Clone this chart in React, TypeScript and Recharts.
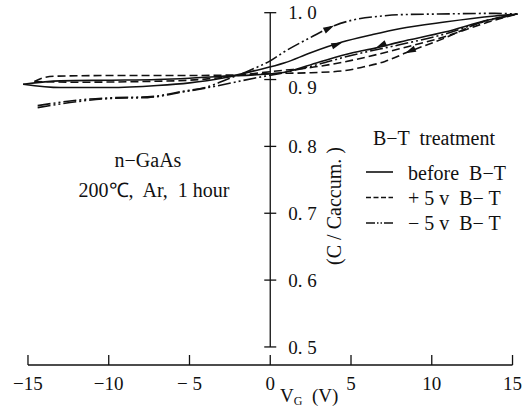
import React from 'react';
import {
  LineChart,
  Line,
  XAxis,
  YAxis,
  ReferenceLine,
  ReferenceDot,
  Legend,
  Customized,
} from 'recharts';

// gate voltage V_G (V) and C / Caccum
// "Up" = sweep toward +15 V, "Down" = sweep back toward -15 V (both kept in ascending V)
const beforeUpV = [-15.3, -13, -10, -7, -5, -3, -1, 0.9, 2.5, 4.45, 6.3, 8, 10.8, 13.9, 15.3];
const beforeUpC = [0.893, 0.888, 0.888, 0.891, 0.895, 0.902, 0.913, 0.925, 0.94, 0.956, 0.967, 0.976, 0.986, 0.995, 0.998];
const beforeDownV = [-15.3, -13, -10, -7, -5, -3, -1, 0.9, 3, 5.1, 6.5, 8, 10.8, 13.5, 15.3];
const beforeDownC = [0.893, 0.898, 0.899, 0.9, 0.902, 0.905, 0.907, 0.911, 0.926, 0.94, 0.947, 0.956, 0.971, 0.989, 0.998];

const plusUpV = [-14.6, -12, -8, -5, -3, -1, 0.9, 2.2, 5.1, 8, 10.8, 13.5, 15.3];
const plusUpC = [0.897, 0.896, 0.897, 0.899, 0.903, 0.909, 0.914, 0.917, 0.929, 0.946, 0.964, 0.986, 0.998];
const plusDownV = [-14.6, -14.0, -13.3, -10, -5, -2, 0, 2.2, 4.5, 5.8, 7.1, 8.4, 10.8, 13.1, 15.3];
const plusDownC = [0.897, 0.903, 0.905, 0.906, 0.906, 0.907, 0.909, 0.91, 0.913, 0.919, 0.927, 0.94, 0.962, 0.986, 0.998];

const minusUpV = [-14.4, -11.6, -9.6, -7.6, -5.5, -3.9, -2.7, -1.25, 0, 0.9, 2.5, 4.0, 5.1, 6.9, 8, 10.4, 13.9, 15.3];
const minusUpC = [0.861, 0.87, 0.873, 0.874, 0.882, 0.889, 0.9, 0.914, 0.928, 0.942, 0.963, 0.981, 0.989, 0.995, 0.997, 0.998, 0.999, 0.998];
const minusDownV = [-14.4, -11.6, -9.6, -7.6, -5.5, -3.4, -1, 1, 3, 5, 8, 10.8, 13, 15.3];
const minusDownC = [0.858, 0.868, 0.872, 0.873, 0.881, 0.89, 0.902, 0.911, 0.923, 0.936, 0.952, 0.968, 0.985, 0.998];

// sweep-direction arrows drawn on the curves
const arrowV = [3.9, 4.4, 6.6, 8.4];
const arrowC = [0.98, 0.955, 0.948, 0.94];
const arrowDir = [-27, -20, 155, 156];

const xTicks = [-15, -10, -5, 0, 5, 10, 15];
const xTickLabels = ['−15', '−10', '− 5', '0', '5', '10', '15'];
const yTicks = [0.5, 0.6, 0.7, 0.8, 0.9, 1.0];
const yTickLabels = ['0. 5', '0. 6', '0. 7', '0. 8', '0. 9', '1. 0'];

const legendTitle = 'B−T  treatment';
const seriesNames = ['before  B−T', '+ 5 v  B− T', '− 5 v  B− T'];

const zip = (v: number[], c: number[]) => v.map((x, i) => ({ v: x, c: c[i] }));

const series = [
  { id: 'before', name: seriesNames[0], dash: undefined, legendDash: undefined, up: zip(beforeUpV, beforeUpC), down: zip(beforeDownV, beforeDownC) },
  { id: 'plus', name: seriesNames[1], dash: '8 4', legendDash: '5 2.5', up: zip(plusUpV, plusUpC), down: zip(plusDownV, plusDownC) },
  { id: 'minus', name: seriesNames[2], dash: '13 3 2 3 2 3', legendDash: '9 2 1.5 2 1.5 2', up: zip(minusUpV, minusUpC), down: zip(minusDownV, minusDownC) },
];

const FONT = "'Liberation Serif', 'Times New Roman', serif";
const INK = '#111';

const XTick = ({ x, y, payload }: any) => {
  const i = xTicks.indexOf(payload.value);
  return (
    <g>
      <line x1={x} x2={x} y1={y} y2={y - 10} stroke={INK} strokeWidth={1.3} />
      <text x={x} y={y + 25} textAnchor="middle" fontSize={19} fontFamily={FONT} fill={INK}>
        {xTickLabels[i]}
      </text>
    </g>
  );
};

const yTickShape = (label: string, shift: number) => (p: any) => (
  <g>
    <line x1={p.cx - 6} x2={p.cx + 6} y1={p.cy} y2={p.cy} stroke={INK} strokeWidth={1.3} />
    <text x={p.cx + 18} y={p.cy + shift} dy="0.35em" fontSize={19} fontFamily={FONT} fill={INK} style={{ whiteSpace: 'pre' }}>
      {label}
    </text>
  </g>
);

const arrowShape = (deg: number) => (p: any) => (
  <polygon
    points="1,0 -10,-3.2 -10,3.2"
    transform={`translate(${p.cx} ${p.cy}) rotate(${deg})`}
    fill={INK}
  />
);

const LegendBox = () => (
  <svg width={171} height={115} style={{ display: 'block', overflow: 'visible' }}>
    <text x={13} y={20} fontSize={20} fontFamily={FONT} fill={INK} style={{ whiteSpace: 'pre' }}>
      {legendTitle}
    </text>
    {series.map((s, i) => (
      <g key={s.id}>
        <line x1={6} x2={33} y1={47 + i * 25.5} y2={47 + i * 25.5} stroke={INK} strokeWidth={1.6} strokeDasharray={s.legendDash} />
        <text x={48} y={55 + i * 25} fontSize={20} fontFamily={FONT} fill={INK} style={{ whiteSpace: 'pre' }}>
          {s.name}
        </text>
      </g>
    ))}
  </svg>
);

const Notes = () => (
  <g fontFamily={FONT} fill={INK}>
    <text x={148} y={167} fontSize={20} textAnchor="middle">n−GaAs</text>
    <text x={154} y={197} fontSize={20} textAnchor="middle" style={{ whiteSpace: 'pre' }}>200℃,  Ar,  1 hour</text>
    <text transform="translate(341 206) rotate(-90)" fontSize={20} textAnchor="middle" style={{ whiteSpace: 'pre' }}>
      (C / Caccum. )
    </text>
    <text x={280} y={402} fontSize={19} style={{ whiteSpace: 'pre' }}>
      V<tspan fontSize={12} dy={3}>G</tspan>
      <tspan dy={-3}>  (V)</tspan>
    </text>
  </g>
);

export default function App() {
  return (
    <div style={{ position: 'absolute', left: 0, top: 0, width: 531, height: 409, background: '#fff' }}>
      <LineChart width={531} height={409} margin={{ top: 5, right: 10.4, bottom: 0, left: 19.9 }}>
        <XAxis
          dataKey="v"
          type="number"
          domain={[-15.5, 15.5]}
          ticks={xTicks}
          allowDataOverflow
          axisLine={false}
          tickLine={false}
          tickSize={0}
          tickMargin={0}
          height={44}
          tick={<XTick />}
        />
        <YAxis type="number" dataKey="c" domain={[0.473, 1.0115]} allowDataOverflow hide />

        {/* x axis only spans the -15..15 tick range */}
        <ReferenceLine segment={[{ x: xTicks[0], y: 0.473 }, { x: xTicks[xTicks.length - 1], y: 0.473 }]} stroke={INK} strokeWidth={1.4} />
        {/* y axis sits at V = 0 */}
        <ReferenceLine segment={[{ x: 0, y: yTicks[0] }, { x: 0, y: yTicks[yTicks.length - 1] }]} stroke={INK} strokeWidth={1.3} />
        {yTicks.map((t, i) => (
          <ReferenceDot key={t} x={0} y={t} r={0} shape={yTickShape(yTickLabels[i], t === 0.9 ? 8 : 0)} />
        ))}

        {series.map((s) => [
          <Line key={s.id + '-up'} data={s.up} dataKey="c" type="monotone" stroke={INK} strokeWidth={1.6} strokeDasharray={s.dash} dot={false} activeDot={false} isAnimationActive={false} legendType="none" />,
          <Line key={s.id + '-down'} data={s.down} dataKey="c" type="monotone" stroke={INK} strokeWidth={1.6} strokeDasharray={s.dash} dot={false} activeDot={false} isAnimationActive={false} legendType="none" />,
        ])}

        {arrowV.map((v, i) => (
          <ReferenceDot key={'arrow' + i} x={v} y={arrowC[i]} r={0} shape={arrowShape(arrowDir[i])} />
        ))}

        <Legend
          layout="horizontal"
          verticalAlign="middle"
          align="center"
          content={<LegendBox />}
          wrapperStyle={{ left: 360, top: 125, width: 171, height: 115 }}
        />
        <Customized component={<Notes />} />
      </LineChart>
    </div>
  );
}
